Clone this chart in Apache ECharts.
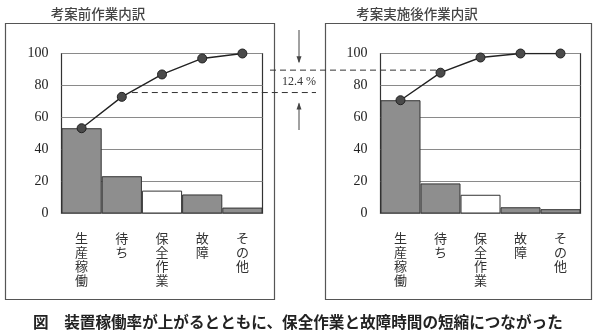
<!DOCTYPE html>
<html>
<head>
<meta charset="utf-8">
<script src="https://cdn.jsdelivr.net/npm/echarts@6/dist/echarts.min.js"></script>
<style>
  html, body { margin: 0; padding: 0; background: #fff; }
  #chart { width: 600px; height: 335px; }
</style>
</head>
<body>
<div id="chart"></div>
<script>
// Work breakdown before and after the improvement (share %, cumulative %)
const categories = ['生産稼働', '待ち', '保全作業', '故障', 'その他'];
const beforeShare = [53.3, 23.3, 14.3, 11.9, 3.7];
const beforeCumulative = [53.3, 72.9, 86.9, 96.9, 100];
const afterShare = [70.8, 18.8, 11.7, 3.9, 2.7];
const afterCumulative = [70.8, 88.0, 97.5, 100, 100];
const yTicks = [0, 20, 40, 60, 80, 100];

// Reference levels compared between the two charts
const lowerRef = 75.6;
const upperRef = 89.6;
const gapLabel = '12.4 %';

const panelTitles = ['考案前作業内訳', '考案実施後作業内訳'];
const caption = '図　装置稼働率が上がるとともに、保全作業と故障時間の短縮につながった';

const whiteCategory = '保全作業';
const serif = '"Liberation Serif", "DejaVu Serif", serif';
const jp = '"Noto Sans CJK JP", sans-serif';

function barData(values) {
  return values.map((v, i) => ({
    value: v,
    itemStyle: { color: categories[i] === whiteCategory ? '#ffffff' : '#8e8e8e' }
  }));
}

function xAxis(gridIndex) {
  return {
    type: 'category', gridIndex, data: categories,
    axisLine: { show: false }, axisTick: { show: false },
    axisLabel: {
      interval: 0, margin: 18, fontFamily: jp, fontSize: 13, lineHeight: 14,
      color: '#333', verticalAlign: 'top',
      formatter: s => s.split('').join('\n')
    }
  };
}

function yAxis(gridIndex) {
  return {
    type: 'value', gridIndex, min: yTicks[0], max: yTicks[yTicks.length - 1], interval: 20,
    axisLine: { show: false }, axisTick: { show: false },
    axisLabel: { margin: 13, fontFamily: serif, fontSize: 14, color: '#222' },
    splitLine: { show: true, lineStyle: { color: '#8a8a8a', width: 1 } }
  };
}

function barSeries(idx, values) {
  return {
    type: 'bar', xAxisIndex: idx, yAxisIndex: idx, data: barData(values),
    barCategoryGap: '0%', barGap: '0%', z: 2,
    itemStyle: { borderColor: '#333', borderWidth: 1 }, silent: true
  };
}

function lineSeries(idx, values) {
  return {
    type: 'line', xAxisIndex: idx, yAxisIndex: idx, data: values, z: 5,
    symbol: 'circle', symbolSize: 9,
    lineStyle: { color: '#222', width: 1.4 },
    itemStyle: { color: '#4a4a4a', borderColor: '#222', borderWidth: 1 },
    silent: true
  };
}

const chart = echarts.init(document.getElementById('chart'), null, { renderer: 'canvas' });

chart.setOption({
  animation: false,
  backgroundColor: '#fff',
  grid: [
    { left: 61.5, top: 53.5, width: 201, height: 160, show: true, borderColor: '#333', borderWidth: 1.2, backgroundColor: 'transparent' },
    { left: 380.5, top: 53.5, width: 200, height: 160, show: true, borderColor: '#333', borderWidth: 1.2, backgroundColor: 'transparent' }
  ],
  xAxis: [xAxis(0), xAxis(1)],
  yAxis: [yAxis(0), yAxis(1)],
  series: [
    barSeries(0, beforeShare), lineSeries(0, beforeCumulative),
    barSeries(1, afterShare), lineSeries(1, afterCumulative)
  ]
});

// Panel frames, titles, comparison lines and caption
const yLow = chart.convertToPixel({ yAxisIndex: 0 }, lowerRef);
const yHigh = chart.convertToPixel({ yAxisIndex: 1 }, upperRef);
const xLowStart = chart.convertToPixel({ xAxisIndex: 0 }, categories[1]) + 10;
const xHighEnd = chart.convertToPixel({ xAxisIndex: 1 }, categories[1]);
const arrowX = 299;
const dash = { stroke: '#333', lineWidth: 1, lineDash: [6, 4] };
const thin = { stroke: '#444', lineWidth: 1 };

chart.setOption({
  graphic: [
    { type: 'rect', shape: { x: 5.5, y: 23.5, width: 269, height: 276 }, style: { fill: 'none', stroke: '#555', lineWidth: 1.2 }, silent: true },
    { type: 'rect', shape: { x: 325.5, y: 23.5, width: 266, height: 276 }, style: { fill: 'none', stroke: '#555', lineWidth: 1.2 }, silent: true },
    { type: 'text', x: 98, y: 14, style: { text: panelTitles[0], font: '500 13.5px ' + jp, fill: '#444', align: 'center', verticalAlign: 'middle' } },
    { type: 'text', x: 417, y: 14, style: { text: panelTitles[1], font: '500 13.5px ' + jp, fill: '#444', align: 'center', verticalAlign: 'middle' } },
    { type: 'line', shape: { x1: xLowStart, y1: yLow, x2: 316, y2: yLow }, style: dash, silent: true, z: 10 },
    { type: 'line', shape: { x1: 270, y1: yHigh, x2: xHighEnd, y2: yHigh }, style: dash, silent: true, z: 10 },
    { type: 'line', shape: { x1: arrowX, y1: 30, x2: arrowX, y2: yHigh - 8 }, style: thin, silent: true },
    { type: 'polygon', shape: { points: [[arrowX - 2.5, yHigh - 14], [arrowX + 2.5, yHigh - 14], [arrowX, yHigh - 7]] }, style: { fill: '#444' }, silent: true },
    { type: 'line', shape: { x1: arrowX, y1: 130, x2: arrowX, y2: yLow + 11 }, style: thin, silent: true },
    { type: 'polygon', shape: { points: [[arrowX - 2.5, yLow + 17], [arrowX + 2.5, yLow + 17], [arrowX, yLow + 10]] }, style: { fill: '#444' }, silent: true },
    { type: 'text', x: arrowX, y: (yLow + yHigh) / 2 + 1, style: { text: gapLabel, font: '12px ' + serif, fill: '#333', align: 'center', verticalAlign: 'middle' } },
    { type: 'text', x: 33, y: 322, style: { text: caption, font: 'bold 15.6px ' + jp, fill: '#222', align: 'left', verticalAlign: 'middle' } }
  ]
});
</script>
</body>
</html>
